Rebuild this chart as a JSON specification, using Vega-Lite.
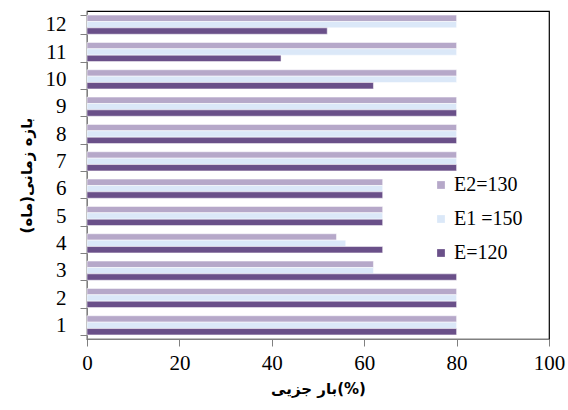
{
  "$schema": "https://vega.github.io/schema/vega-lite/v6.json",
  "autosize": {"type": "none"},
  "width": 462,
  "height": 328,
  "padding": {"left": 87, "top": 11, "right": 19, "bottom": 71},
  "background": "white",
  "config": {
    "font": "Liberation Serif",
    "view": {"stroke": "#000000", "strokeWidth": 1.2},
    "axis": {"labelFont": "Liberation Serif", "titleFont": "DejaVu Sans", "labelColor": "#000", "titleColor": "#000", "domainColor": "#808080", "tickColor": "#808080", "grid": false}
  },
  "data": {
    "values": [
      {"month": 1, "series": "E2=130", "value": 80},
      {"month": 1, "series": "E1 =150", "value": 80},
      {"month": 1, "series": "E=120", "value": 80},
      {"month": 2, "series": "E2=130", "value": 80},
      {"month": 2, "series": "E1 =150", "value": 80},
      {"month": 2, "series": "E=120", "value": 80},
      {"month": 3, "series": "E2=130", "value": 62},
      {"month": 3, "series": "E1 =150", "value": 62},
      {"month": 3, "series": "E=120", "value": 80},
      {"month": 4, "series": "E2=130", "value": 54},
      {"month": 4, "series": "E1 =150", "value": 56},
      {"month": 4, "series": "E=120", "value": 64},
      {"month": 5, "series": "E2=130", "value": 64},
      {"month": 5, "series": "E1 =150", "value": 64},
      {"month": 5, "series": "E=120", "value": 64},
      {"month": 6, "series": "E2=130", "value": 64},
      {"month": 6, "series": "E1 =150", "value": 64},
      {"month": 6, "series": "E=120", "value": 64},
      {"month": 7, "series": "E2=130", "value": 80},
      {"month": 7, "series": "E1 =150", "value": 80},
      {"month": 7, "series": "E=120", "value": 80},
      {"month": 8, "series": "E2=130", "value": 80},
      {"month": 8, "series": "E1 =150", "value": 80},
      {"month": 8, "series": "E=120", "value": 80},
      {"month": 9, "series": "E2=130", "value": 80},
      {"month": 9, "series": "E1 =150", "value": 80},
      {"month": 9, "series": "E=120", "value": 80},
      {"month": 10, "series": "E2=130", "value": 80},
      {"month": 10, "series": "E1 =150", "value": 80},
      {"month": 10, "series": "E=120", "value": 62},
      {"month": 11, "series": "E2=130", "value": 80},
      {"month": 11, "series": "E1 =150", "value": 80},
      {"month": 11, "series": "E=120", "value": 42},
      {"month": 12, "series": "E2=130", "value": 80},
      {"month": 12, "series": "E1 =150", "value": 80},
      {"month": 12, "series": "E=120", "value": 52}
    ]
  },
  "mark": {"type": "bar", "stroke": "white", "strokeWidth": 0.5},
  "encoding": {
    "y": {
      "field": "month", "type": "ordinal", "sort": "descending",
      "scale": {"paddingInner": 0.3, "paddingOuter": 0.15},
      "axis": {
        "title": "بازه زمانی(ماه)", "titleFontSize": 15, "titleFontWeight": "bold", "titlePadding": 11,
        "labelFontSize": 21, "labelPadding": 14, "tickSize": 7, "tickBand": "extent", "labelAngle": 0
      }
    },
    "x": {
      "field": "value", "type": "quantitative",
      "scale": {"domain": [0, 100], "nice": false},
      "axis": {
        "title": "بار جزیی(%)", "titleFontSize": 15, "titleFontWeight": "bold", "titlePadding": 8,
        "values": [0, 20, 40, 60, 80, 100], "labelFontSize": 21, "labelPadding": 6, "tickSize": 7,
        "labelFlush": false
      }
    },
    "yOffset": {
      "field": "series", "type": "nominal",
      "sort": ["E2=130", "E1 =150", "E=120"],
      "scale": {"paddingInner": 0, "paddingOuter": 0}
    },
    "color": {
      "field": "series", "type": "nominal",
      "sort": ["E2=130", "E1 =150", "E=120"],
      "scale": {"domain": ["E2=130", "E1 =150", "E=120"], "range": ["#b6a8c9", "#dbe8f8", "#6a5089"]},
      "legend": {
        "title": null, "orient": "none", "legendX": 344, "legendY": 164,
        "symbolType": "square", "symbolSize": 60, "symbolStrokeWidth": 0,
        "labelFontSize": 20, "labelFont": "Liberation Serif", "labelColor": "#000",
        "rowPadding": 14, "labelOffset": 3, "padding": 0
      }
    }
  }
}
